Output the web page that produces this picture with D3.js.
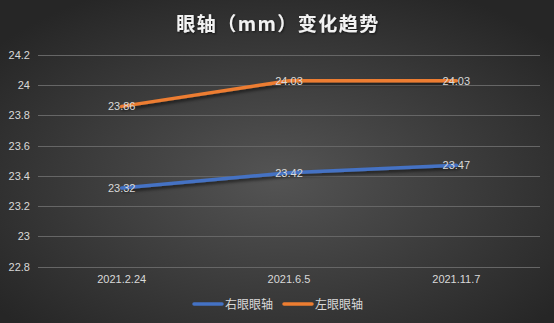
<!DOCTYPE html>
<html><head><meta charset="utf-8">
<script src="https://cdn.jsdelivr.net/npm/d3@7"></script>
<style>html,body{margin:0;padding:0;background:#2a2a2a;}svg{display:block;}</style>
</head><body>
<script>
const title = "眼轴（mm）变化趋势";
const categories = ["2021.2.24", "2021.6.5", "2021.11.7"];
const seriesNames = ["右眼眼轴", "左眼眼轴"];
const rightEye = [23.32, 23.42, 23.47];
const leftEye = [23.86, 24.03, 24.03];
const yTicks = [22.8, 23, 23.2, 23.4, 23.6, 23.8, 24, 24.2];
const colors = ["#4472c4", "#ed7d31"];

const W = 554, H = 323;
const m = {left: 38, right: 14, top: 55, bottom: 56.5};
const svg = d3.select("body").append("svg").attr("width", W).attr("height", H);
const defs = svg.append("defs");
const rg = defs.append("radialGradient").attr("id","bg").attr("cx","50%").attr("cy","55%").attr("r","65%");
rg.append("stop").attr("offset","0%").attr("stop-color","#545454");
rg.append("stop").attr("offset","100%").attr("stop-color","#262626");
const sh = defs.append("filter").attr("id","sh").attr("x","-10%").attr("y","-50%").attr("width","120%").attr("height","200%");
sh.append("feDropShadow").attr("dx",1.5).attr("dy",2.5).attr("stdDeviation",1.5).attr("flood-color","#000").attr("flood-opacity",0.55);
const tsh = defs.append("filter").attr("id","tsh");
tsh.append("feDropShadow").attr("dx",1).attr("dy",1).attr("stdDeviation",1).attr("flood-color","#000").attr("flood-opacity",0.6);

svg.append("rect").attr("width",W).attr("height",H).attr("fill","url(#bg)");

const x = d3.scaleBand().domain(categories).range([m.left, W - m.right]);
const y = d3.scaleLinear().domain([22.8, 24.2]).range([H - m.bottom, m.top]);

svg.append("text").attr("x", W/2 + 1).attr("y", 31).attr("text-anchor","middle")
  .attr("font-family","'Noto Sans CJK SC', sans-serif").attr("font-weight","bold")
  .attr("font-size", 19).attr("letter-spacing", 1.5).attr("fill","#f2f2f2")
  .attr("filter","url(#tsh)").text(title);

// grid
svg.append("g").selectAll("line").data(yTicks).join("line")
  .attr("x1", m.left).attr("x2", W - m.right)
  .attr("y1", d => Math.round(y(d)) + 0.5).attr("y2", d => Math.round(y(d)) + 0.5)
  .attr("stroke", "#666").attr("stroke-width", 1);

// y axis
const yAxis = d3.axisLeft(y).tickValues(yTicks).tickSize(0).tickPadding(8).tickFormat(d3.format("~g"));
const gy = svg.append("g").attr("transform", `translate(${m.left},0)`).call(yAxis);
gy.select(".domain").remove();
gy.selectAll("text").attr("fill","#d9d9d9").attr("font-size",11).attr("font-family","'Liberation Sans', Arial, sans-serif");

// x axis
const xAxis = d3.axisBottom(x).tickSize(0).tickPadding(9);
const gx = svg.append("g").attr("transform", `translate(0,${H - m.bottom})`).call(xAxis);
gx.select(".domain").remove();
gx.selectAll("text").attr("fill","#d9d9d9").attr("font-size",11).attr("font-family","'Liberation Sans', Arial, sans-serif");

const data = [rightEye, leftEye];
const line = d3.line().x((d,i) => x(categories[i]) + x.bandwidth()/2).y(d => y(d));
data.forEach((s, k) => {
  svg.append("path").attr("d", line(s)).attr("fill","none").attr("stroke", colors[k])
    .attr("stroke-width", 3.5).attr("stroke-linecap","round").attr("filter","url(#sh)");
});
data.forEach((s, k) => {
  svg.append("g").selectAll("text").data(s).join("text")
    .attr("x", (d,i) => x(categories[i]) + x.bandwidth()/2)
    .attr("y", d => y(d) + 4)
    .attr("text-anchor","middle").attr("fill","#d9d9d9").attr("font-size",11)
    .attr("font-family","'Liberation Sans', Arial, sans-serif")
    .text(d => d3.format(".2f")(d));
});

// legend
const leg = svg.append("g").attr("transform","translate(0,304)");
const legX = [194, 284];
seriesNames.forEach((n, k) => {
  leg.append("line").attr("x1", legX[k]).attr("x2", legX[k] + 28).attr("y1",0).attr("y2",0)
    .attr("stroke", colors[k]).attr("stroke-width",3.5).attr("stroke-linecap","round");
  leg.append("text").attr("x", legX[k] + 31).attr("y", 4.5).attr("fill","#d9d9d9")
    .attr("font-size",12).attr("font-family","'Noto Sans CJK SC', sans-serif").text(n);
});
</script>
</body></html>
